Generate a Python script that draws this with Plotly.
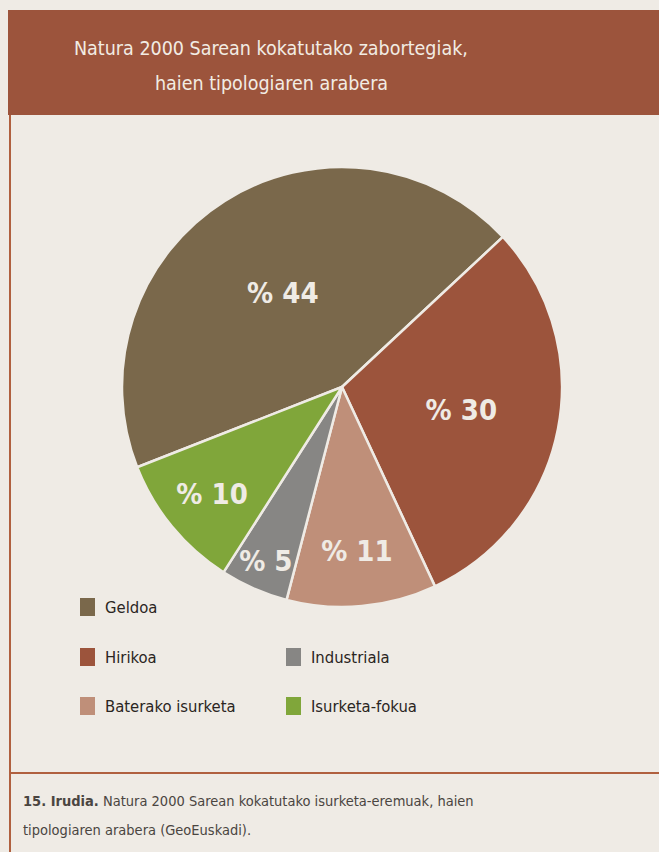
import plotly.graph_objects as go

# ---- data ----
labels = ["Geldoa", "Hirikoa", "Baterako isurketa", "Industriala", "Isurketa-fokua"]
values = [44, 30, 11, 5, 10]
colors = ["#7A684B", "#9C543C", "#BF8F79", "#878684", "#80A63A"]
legend_order = ["Geldoa", "Hirikoa", "Industriala", "Baterako isurketa", "Isurketa-fokua"]

title_lines = ["Natura 2000 Sarean kokatutako zabortegiak,", "haien tipologiaren arabera"]
caption_bold = "15. Irudia."
caption_rest = "Natura 2000 Sarean kokatutako isurketa-eremuak, haien"
caption_line2 = "tipologiaren arabera (GeoEuskadi)."

W, H = 659, 852
BG = "#EFEBE5"
FONT = "DejaVu Sans Condensed, DejaVu Sans, sans-serif"

def px(x):
    return x / W

def py(y):
    return 1 - y / H

fig = go.Figure()
fig.add_trace(go.Pie(
    labels=labels, values=values, sort=False, direction="clockwise",
    rotation=-111.4,
    marker=dict(colors=colors, line=dict(color=BG, width=2.5)),
    text=[f"% {v}" for v in values], textinfo="text",
    textposition="inside", insidetextorientation="horizontal",
    textfont=dict(family=FONT, size=29, color=BG, weight="bold"),
    domain=dict(x=[px(122), px(562)], y=[py(607), py(167)]),
    showlegend=False, hoverinfo="label+percent",
))

shapes = [
    dict(type="rect", xref="paper", yref="paper", x0=px(8), x1=px(700), y0=py(115), y1=py(10),
         fillcolor="#9C543C", line=dict(width=0), layer="below"),
    dict(type="line", xref="paper", yref="paper", x0=px(10), x1=px(10), y0=py(115), y1=py(900),
         line=dict(color="#B0603F", width=2)),
    dict(type="line", xref="paper", yref="paper", x0=px(10), x1=px(700), y0=py(773), y1=py(773),
         line=dict(color="#B0603F", width=2)),
]
annotations = []
for i, t in enumerate(title_lines):
    annotations.append(dict(text=t, xref="paper", yref="paper", x=px(271), y=py(48 + 35 * i),
                            xanchor="center", yanchor="middle", showarrow=False,
                            font=dict(family=FONT, size=19.5, color="#F2ECE4")))

# legend (2-column grid)
leg_pos = [(80, 607), (80, 657), (286, 657), (80, 706), (286, 706)]
for name, (lx, ly) in zip(legend_order, leg_pos):
    c = colors[labels.index(name)]
    shapes.append(dict(type="rect", xref="paper", yref="paper", x0=px(lx), x1=px(lx + 15),
                       y0=py(ly + 9), y1=py(ly - 9), fillcolor=c, line=dict(width=0)))
    annotations.append(dict(text=name, xref="paper", yref="paper", x=px(lx + 23), y=py(ly),
                            xanchor="left", yanchor="middle", showarrow=False,
                            font=dict(family=FONT, size=16.5, color="#2A2522")))

annotations.append(dict(text=f"<b>{caption_bold}</b> {caption_rest}", xref="paper", yref="paper",
                        x=px(21), y=py(801), xanchor="left", yanchor="middle", showarrow=False,
                        font=dict(family=FONT, size=14.5, color="#4A4541")))
annotations.append(dict(text=caption_line2, xref="paper", yref="paper",
                        x=px(21), y=py(830), xanchor="left", yanchor="middle", showarrow=False,
                        font=dict(family=FONT, size=14.5, color="#4A4541")))

fig.update_layout(width=W, height=H, margin=dict(l=0, r=0, t=0, b=0),
                  paper_bgcolor=BG, plot_bgcolor=BG, shapes=shapes, annotations=annotations,
                  uniformtext=dict(minsize=29, mode="show"))
fig.write_html("out.html", config={"displayModeBar": False},
               post_script="document.body.style.margin='0px';document.body.style.overflow='hidden';")
